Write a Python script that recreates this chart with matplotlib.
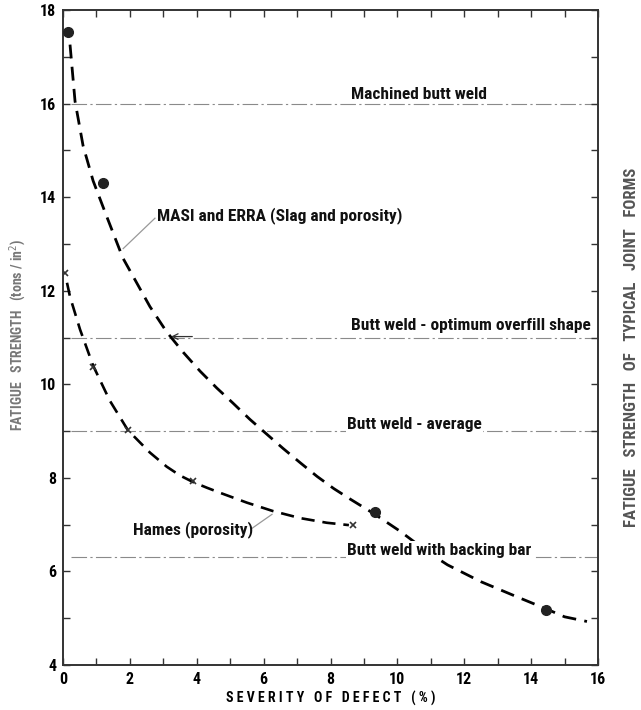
import matplotlib
matplotlib.use("Agg")
import matplotlib.pyplot as plt

# ── Data ────────────────────────────────────────────────────────────
# MASI and ERRA (slag and porosity): measured points and faired curve
masi_pts_x = [0.15, 1.2, 9.33, 14.45]
masi_pts_y = [17.54, 14.31, 7.28, 5.18]
masi_curve_x = [0.21, 0.36, 0.6, 0.9, 1.3, 1.79, 2.6, 3.1, 3.6, 4.1, 4.6,
                5.08, 5.59, 6.1, 6.58, 7.1, 7.6, 8.1, 8.58, 9.33, 10.08,
                10.9, 11.5, 12.5, 13.6, 14.45, 15.0, 15.67]
masi_curve_y = [17.26, 16.05, 15.1, 14.35, 13.6, 12.7, 11.66, 11.12, 10.68,
                10.28, 9.92, 9.6, 9.25, 8.93, 8.63, 8.32, 8.03, 7.77, 7.55,
                7.22, 6.86, 6.42, 6.14, 5.78, 5.45, 5.2, 5.03, 4.93]

# Hames (porosity)
hames_pts_x = [0.06, 0.9, 1.94, 3.89, 8.67]
hames_pts_y = [12.38, 10.38, 9.02, 7.94, 6.99]
hames_curve_x = [0.12, 0.21, 0.51, 0.9, 1.4, 1.94, 2.6, 3.1, 3.5, 3.89,
                 4.3, 4.7, 5.5, 6.28, 7.09, 7.89, 8.55]
hames_curve_y = [12.17, 11.87, 11.17, 10.4, 9.65, 9.02, 8.54, 8.24, 8.05,
                 7.91, 7.79, 7.68, 7.47, 7.29, 7.14, 7.04, 6.99]

# typical joint forms (horizontal reference levels)
joint_levels = [16.0, 11.0, 9.0, 6.3]
joint_labels = ["Machined butt weld", "Butt weld - optimum overfill shape",
                "Butt weld - average", "Butt weld with backing bar"]
joint_label_x = [8.6, 8.6, 8.5, 8.5]
joint_label_y = [16.2, 11.25, 9.15, 6.45]

x_ticks = [0, 2, 4, 6, 8, 10, 12, 14, 16]
y_ticks = [4, 6, 8, 10, 12, 14, 16, 18]

plt.rcParams["font.family"] = ["Roboto Condensed", "Liberation Sans Narrow",
                               "DejaVu Sans"]
plt.rcParams["font.stretch"] = "condensed"

W, H = 641, 710
fig = plt.figure(figsize=(W / 100, H / 100), dpi=100)
ax = fig.add_axes([63 / W, (H - 665) / H, (598 - 63) / W, (665 - 10) / H])

ax.set_xlim(0, 16)
ax.set_ylim(4, 18)

# ── reference levels for joint forms ────────────────────────────────
for lvl, lab, lx, ly in zip(joint_levels, joint_labels, joint_label_x, joint_label_y):
    ax.axhline(lvl, xmin=0.015, xmax=1, color="#8a8a8a", lw=0.8,
               ls=(0, (14, 3, 2, 3)), zorder=1)
    ax.text(lx, ly, lab, fontsize=12.5, fontweight="bold", color="#111",
            va="center", ha="left", zorder=5,
            bbox=dict(facecolor="white", edgecolor="none", pad=1.0))

# ── curves ───────────────────────────────────────────────────────────
ax.plot(masi_curve_x, masi_curve_y, color="black", lw=2.0,
        ls=(0, (5, 3)), zorder=3)
ax.plot(masi_pts_x, masi_pts_y, "o", color="#222", ms=7, zorder=4)

ax.plot(hames_curve_x, hames_curve_y, color="black", lw=1.9,
        ls=(0, (5, 3)), zorder=3)
ax.plot(hames_pts_x, hames_pts_y, "x", color="#333", ms=5, mew=1.2, zorder=4)

# ── curve labels with leader lines ───────────────────────────────────
ax.text(2.82, 13.6, "MASI and ERRA (Slag and porosity)", fontsize=12.5,
        fontweight="bold", color="#111", va="center", ha="left", zorder=5)
ax.plot([2.75, 1.8], [13.55, 12.9], color="#999", lw=0.9, zorder=2)

ax.text(2.1, 6.9, "Hames (porosity)", fontsize=12.5, fontweight="bold",
        color="#111", va="center", ha="left", zorder=5)
ax.plot([5.65, 6.25], [6.92, 7.22], color="#999", lw=0.9, zorder=2)

ax.annotate("", xy=(3.15, 11.02), xytext=(3.95, 11.02),
            arrowprops=dict(arrowstyle="->", color="#333", lw=0.9), zorder=4)

# ── axes styling ─────────────────────────────────────────────────────
for side in ["left", "bottom", "right", "top"]:
    ax.spines[side].set_linewidth(1.4)
    ax.spines[side].set_color("#333")

ax.set_xticks(x_ticks)
ax.set_yticks(y_ticks)
ax.set_xticks(range(1, 16, 2), minor=True)
ax.set_yticks(range(5, 18, 2), minor=True)
ax.tick_params(which="both", direction="in", top=True, right=True,
               length=5, width=1.0, color="#333")
ax.tick_params(axis="both", labelsize=11.5, pad=5)
for lab in ax.get_xticklabels() + ax.get_yticklabels():
    lab.set_fontweight("bold")

ax.set_xlabel("S E V E R I T Y   O F   D E F E C T   ( % )", fontsize=10,
              fontweight="bold", labelpad=3)
fig.text(18 / W, 1 - 335 / H, "FATIGUE   STRENGTH   (tons / in$^2$)",
         rotation=90, fontsize=10, color="#777", fontweight="bold",
         ha="center", va="center")
fig.text(632 / W, 1 - 347 / H, "FATIGUE   STRENGTH   OF   TYPICAL   JOINT   FORMS",
         rotation=90, fontsize=12, color="#555", fontweight="bold",
         ha="center", va="center")

fig.savefig("out.png", dpi=100)
